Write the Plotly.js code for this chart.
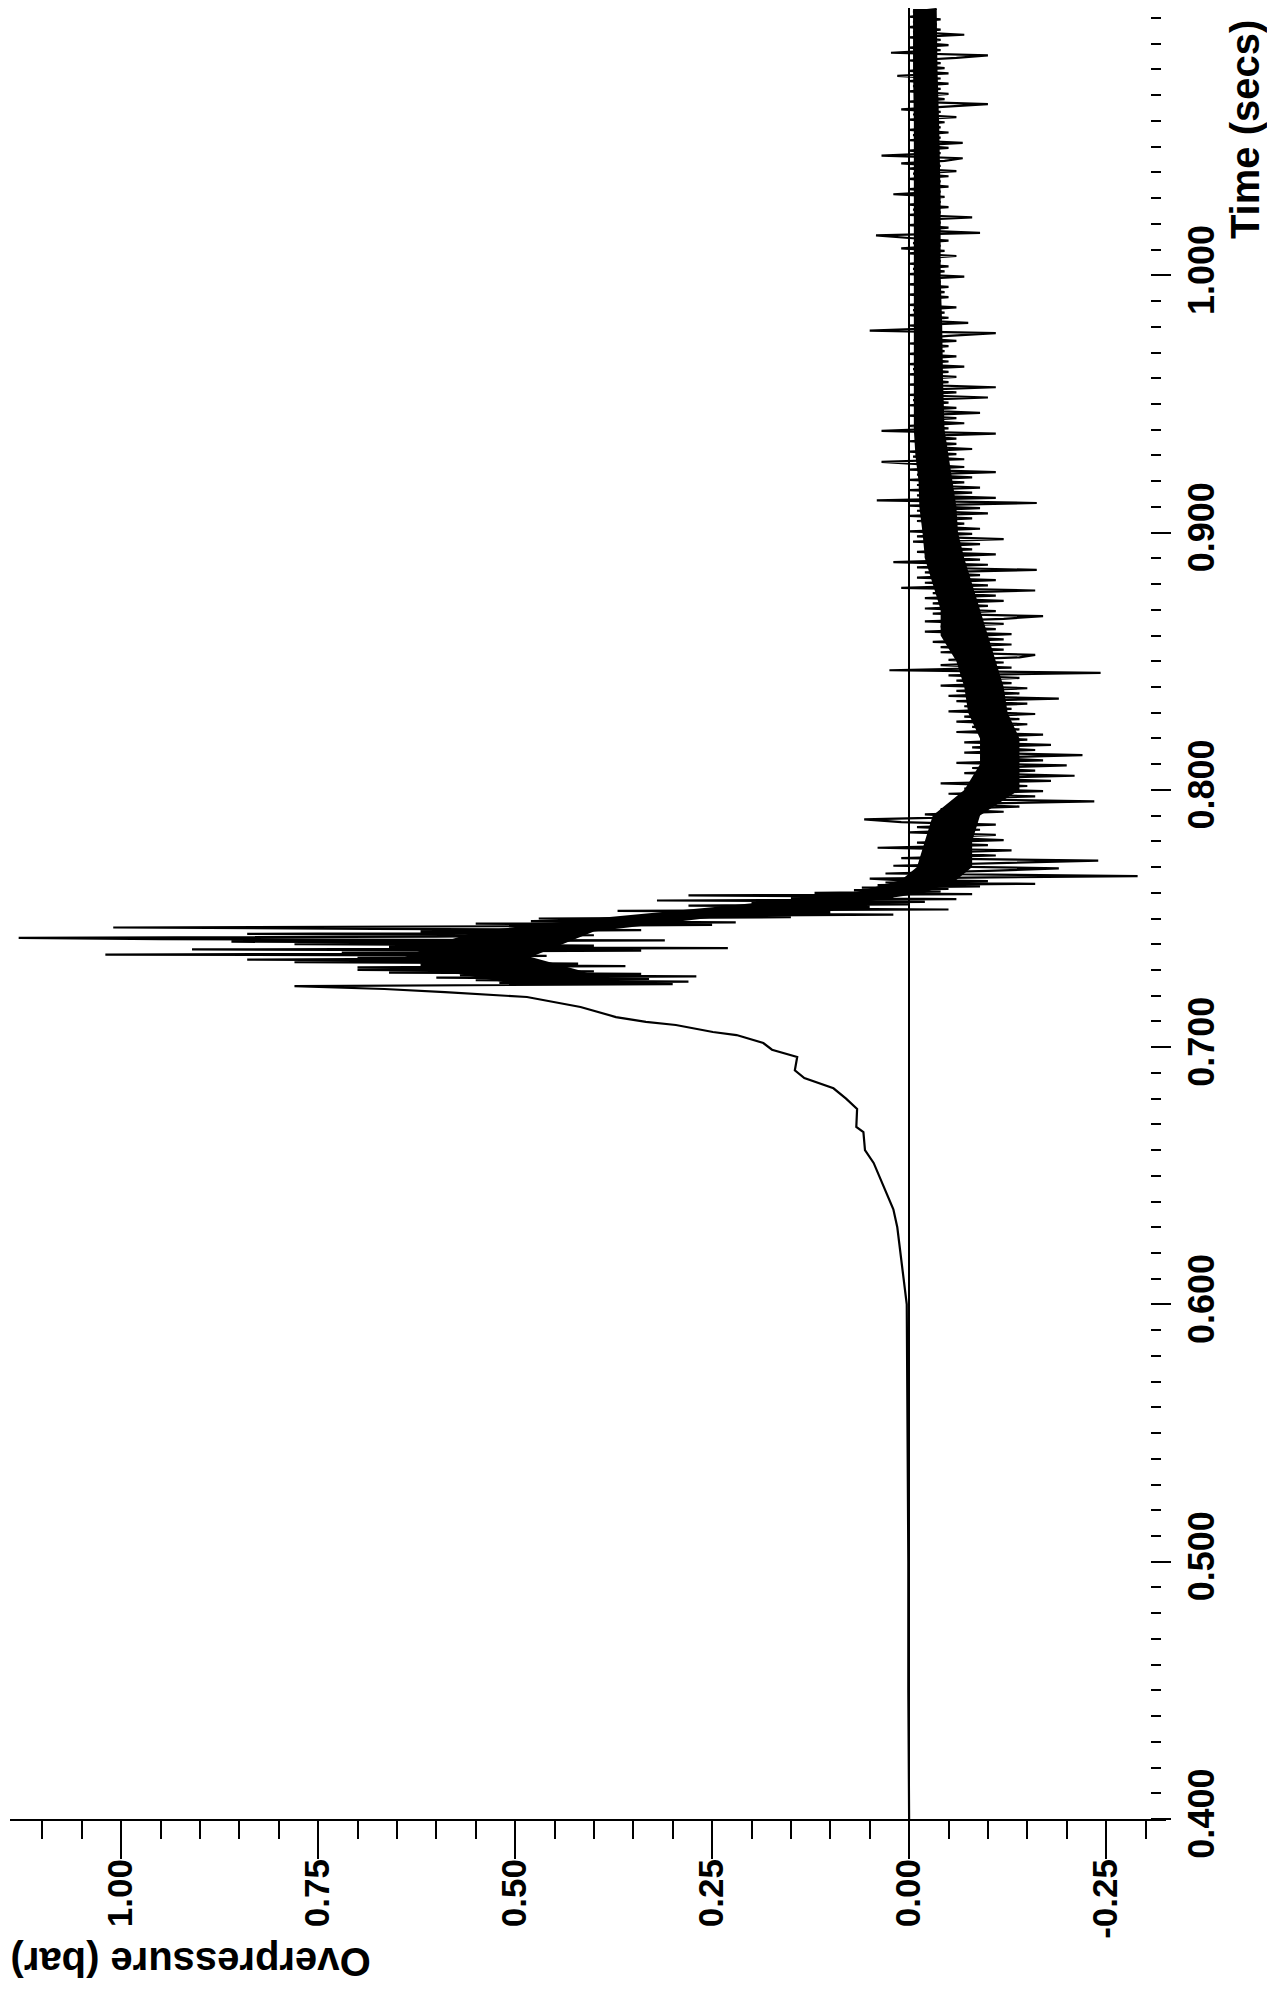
<!DOCTYPE html>
<html>
<head>
<meta charset="utf-8">
<script src="https://cdn.plot.ly/plotly-3.0.1.min.js"></script>
<style>html,body{margin:0;padding:0;background:#fff}</style>
</head>
<body>
<div id="chart" style="width:1267px;height:2003px"></div>
<script>
// ---- Data ----
// Smooth pressure rise before the blast arrives (time s, overpressure bar)
const riseT = [0.400,0.450,0.500,0.550,0.580,0.600,0.610,0.621,0.630,0.637,0.643,0.649,0.655,0.660,0.667,0.669,0.676,0.680,0.684,0.688,0.691,0.6962,0.699,0.7016,0.7047,0.7059,0.7086,0.7098,0.7117,0.7156,0.7195,0.7214,0.7226,0.7237];
const riseP = [0.000,0.001,0.001,0.002,0.002,0.003,0.007,0.011,0.015,0.020,0.028,0.037,0.045,0.056,0.058,0.067,0.066,0.080,0.096,0.133,0.145,0.142,0.174,0.185,0.219,0.249,0.296,0.334,0.372,0.417,0.485,0.589,0.666,0.780];

// Noisy peak section, sampled every 0.5 ms from 0.7240 s
const peakStart = 0.7240, peakStep = 0.0005;
const peakP = [0.56,0.30,0.52,0.28,0.55,0.33,0.60,0.27,0.57,0.34,
  0.66,0.40,0.70,0.45,0.70,0.36,0.62,0.42,0.78,0.50,
  0.84,0.52,0.70,0.46,1.02,0.48,0.72,0.34,0.91,0.23,
  0.66,0.40,0.78,0.50,0.86,0.31,0.95,1.13,0.60,0.40,
  0.84,0.45,0.62,0.34,0.68,1.01,0.52,0.25,0.55,0.22,
  0.48,0.30,0.47,0.15,0.33,0.02,0.30,0.10,0.37,-0.05,
  0.22,0.05,0.28,0.00,0.20,-0.02,0.32,-0.06,0.15,0.02,
  0.28,-0.08,0.12,-0.04,0.07,-0.05,0.06,-0.09,0.04,-0.16,
  0.03,-0.10,0.02];

// Negative phase and tail, sampled every 1 ms from 0.7655 s
const tailStart = 0.7655, tailStep = 0.001;
const tailP = [
  0.05,-0.29,0.03,-0.10,-0.19,0.02,-0.12,-0.24,0.01,-0.11,
  -0.02,-0.13,0.04,-0.10,-0.01,-0.12,-0.03,-0.11,0.00,-0.09,
  -0.01,-0.11,0.01,0.057,-0.08,-0.02,-0.12,-0.04,-0.14,-0.05,
  -0.235,-0.06,-0.16,-0.05,-0.17,-0.07,-0.15,-0.04,-0.18,-0.08,
  -0.21,-0.07,-0.16,-0.08,-0.20,-0.06,-0.17,-0.09,-0.22,-0.07,
  -0.16,-0.08,-0.18,-0.07,-0.15,-0.09,-0.17,-0.06,-0.14,-0.08,
  -0.15,-0.06,-0.14,-0.07,-0.16,-0.05,-0.13,-0.07,-0.15,-0.06,
  -0.19,-0.05,-0.14,-0.06,-0.15,-0.04,-0.13,-0.06,-0.14,-0.05,
  -0.243,0.025,-0.13,-0.04,-0.12,-0.05,-0.14,-0.16,-0.04,-0.12,
  -0.04,-0.13,-0.03,-0.12,-0.05,-0.13,-0.02,-0.11,-0.04,-0.12,
  -0.02,-0.12,-0.17,-0.03,-0.11,-0.02,-0.10,-0.03,-0.12,-0.02,
  -0.11,-0.03,-0.16,0.01,-0.10,-0.02,-0.11,-0.01,-0.09,-0.02,
  -0.162,-0.01,-0.10,0.02,-0.09,-0.02,-0.11,-0.01,-0.08,-0.02,
  -0.09,-0.005,-0.12,-0.01,-0.08,0.00,-0.09,-0.02,-0.07,-0.01,
  -0.08,0.00,-0.10,-0.01,-0.09,0.00,-0.162,0.041,-0.11,-0.01,
  -0.08,0.00,-0.09,-0.01,-0.07,0.00,-0.08,-0.01,-0.11,0.00,
  -0.07,-0.01,0.035,-0.07,-0.005,-0.06,0.00,-0.08,-0.01,-0.06,
  0.00,-0.06,-0.01,-0.11,0.035,-0.05,0.00,-0.07,-0.01,-0.06,
  0.00,-0.09,-0.01,-0.06,0.00,-0.05,-0.005,-0.10,0.00,-0.06,
  -0.01,-0.11,0.00,-0.05,-0.01,-0.06,0.00,-0.05,-0.005,-0.07,
  0.00,-0.05,-0.01,-0.06,0.00,-0.045,-0.01,-0.05,0.00,-0.06,
  -0.01,-0.05,-0.11,0.05,-0.04,0.00,-0.075,-0.01,-0.05,0.00,
  -0.045,-0.005,-0.06,0.00,-0.04,-0.01,-0.05,0.00,-0.045,-0.01,
  -0.05,0.00,-0.04,-0.01,-0.07,0.00,-0.045,-0.005,-0.05,0.00,
  -0.04,-0.01,-0.06,0.00,-0.045,0.01,-0.04,-0.005,-0.05,0.00,
  0.042,-0.09,-0.01,-0.05,0.00,-0.04,-0.01,-0.08,0.00,-0.04,
  -0.005,-0.05,0.00,-0.04,-0.01,-0.045,0.02,-0.04,0.00,-0.05,
  -0.01,-0.04,0.00,-0.05,-0.005,-0.06,0.00,-0.04,0.01,-0.045,
  -0.068,0.035,-0.04,0.00,-0.05,-0.01,-0.068,0.00,-0.04,-0.005,
  -0.05,0.00,-0.04,-0.01,-0.045,0.00,-0.06,-0.005,-0.04,0.01,
  -0.04,-0.10,0.00,-0.045,-0.01,-0.05,0.00,-0.04,-0.005,-0.05,
  0.00,-0.04,0.015,-0.05,0.00,-0.045,-0.01,-0.04,0.00,-0.06,
  -0.10,0.023,-0.04,0.00,-0.05,-0.01,-0.04,0.00,-0.07,-0.005,
  -0.04,0.00,-0.035,-0.005,-0.04,0.00,-0.03,-0.005,-0.035];

// Densest (solid black) core of the noisy record: time, left edge, right edge
const coreT  = [0.725,0.730,0.735,0.740,0.745,0.750,0.755,0.760,0.765,0.770,0.780,0.790,0.800,0.810,0.820,0.830,0.840,0.850,0.860,0.870,0.880,0.890,0.900,0.910,0.920,0.930,0.940,0.960,0.980,1.000,1.030,1.060,1.080,1.1035];
const coreHi = [0.51,0.60,0.64,0.60,0.55,0.40,0.23,0.07,0.01,-0.01,-0.02,-0.03,-0.07,-0.09,-0.09,-0.075,-0.07,-0.06,-0.04,-0.04,-0.03,-0.02,-0.017,-0.013,-0.012,-0.008,-0.006,-0.006,-0.006,-0.006,-0.006,-0.006,-0.005,-0.005];
const coreLo = [0.37,0.42,0.48,0.44,0.40,0.26,0.09,-0.02,-0.06,-0.08,-0.08,-0.09,-0.14,-0.14,-0.14,-0.125,-0.12,-0.11,-0.10,-0.09,-0.08,-0.07,-0.062,-0.06,-0.055,-0.05,-0.045,-0.043,-0.042,-0.04,-0.04,-0.038,-0.036,-0.035];

// Axis ticks
const pTickVals = [1.00, 0.75, 0.50, 0.25, 0.00, -0.25];
const pTickText = ['1.00', '0.75', '0.50', '0.25', '0.00', '-0.25'];
const tTickVals = [0.4, 0.5, 0.6, 0.7, 0.8, 0.9, 1.0];
const tTickText = ['0.400', '0.500', '0.600', '0.700', '0.800', '0.900', '1.000'];

// ---- Build the single recorded trace ----
const sigT = [], sigP = [];
riseT.forEach((t, i) => { sigT.push(t); sigP.push(riseP[i]); });
peakP.forEach((p, i) => { sigT.push(+(peakStart + i * peakStep).toFixed(4)); sigP.push(p); });
tailP.forEach((p, i) => { sigT.push(+(tailStart + i * tailStep).toFixed(4)); sigP.push(p); });

const FONT = 'Liberation Sans, Arial, Helvetica, sans-serif';

const traces = [
  {type: 'scatter', mode: 'lines', x: coreLo, y: coreT,
   line: {color: '#000', width: 0}, hoverinfo: 'skip'},
  {type: 'scatter', mode: 'lines', x: coreHi, y: coreT,
   line: {color: '#000', width: 0}, fill: 'tonextx', fillcolor: '#000', hoverinfo: 'skip'},
  {type: 'scatter', mode: 'lines', x: sigP, y: sigT,
   line: {color: '#000', width: 2.2}, hoverinfo: 'skip'}
];

const layout = {
  width: 1267, height: 2003,
  margin: {l: 10, r: 101, t: 8, b: 184, pad: 0},
  paper_bgcolor: '#fff', plot_bgcolor: '#fff',
  showlegend: false,
  xaxis: {
    range: [1.141, -0.326],
    anchor: 'y',
    tickmode: 'array', tickvals: pTickVals, ticktext: pTickText,
    ticks: 'outside', ticklen: 38, tickwidth: 2, tickcolor: '#000',
    minor: {tickmode: 'linear', tick0: 0, dtick: 0.05, ticks: 'outside', ticklen: 18, tickwidth: 2, tickcolor: '#000', showgrid: false},
    tickangle: -90,
    ticklabelstandoff: -14,
    tickfont: {family: FONT, size: 35, color: '#000', weight: 'bold'},
    showline: true, linecolor: '#000', linewidth: 2,
    zeroline: true, zerolinecolor: '#000', zerolinewidth: 2,
    showgrid: false, fixedrange: true
  },
  yaxis: {
    range: [0.4, 1.1039],
    anchor: 'free', position: 0.986, side: 'right',
    tickmode: 'array', tickvals: tTickVals, ticktext: tTickText,
    ticks: 'outside', ticklen: 20, tickwidth: 2, tickcolor: '#000',
    minor: {tickmode: 'linear', tick0: 0.4, dtick: 0.01, ticks: 'outside', ticklen: 10, tickwidth: 2, tickcolor: '#000', showgrid: false},
    tickangle: -90,
    tickfont: {family: FONT, size: 36, color: '#000', weight: 'bold'},
    showline: false, zeroline: false, showgrid: false, fixedrange: true
  },
  annotations: [
    {text: 'Overpressure (bar)', xref: 'paper', yref: 'paper', x: 0.156, y: -0.079,
     xanchor: 'center', yanchor: 'middle', textangle: 180, showarrow: false,
     font: {family: FONT, size: 40, color: '#000', weight: 'bold'}},
    {text: 'Time (secs)', xref: 'paper', yref: 'paper', x: 1.069, y: 0.933,
     xanchor: 'center', yanchor: 'middle', textangle: -90, showarrow: false,
     font: {family: FONT, size: 40, color: '#000', weight: 'bold'}}
  ]
};

Plotly.newPlot('chart', traces, layout, {displayModeBar: false, staticPlot: true});
</script>
</body>
</html>
